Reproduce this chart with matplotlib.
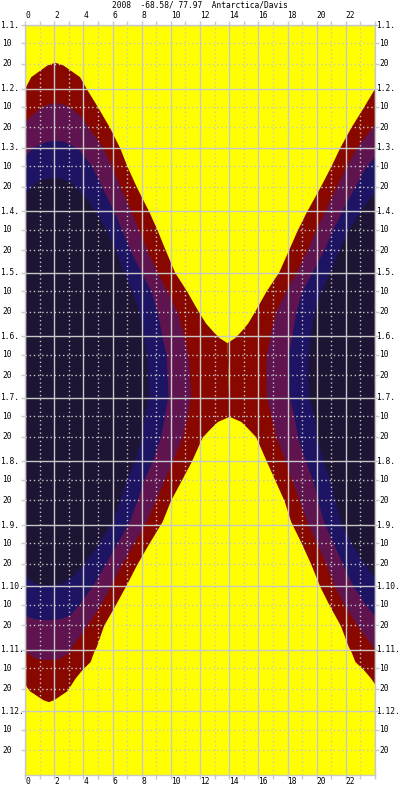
import numpy as np
import matplotlib
matplotlib.use('Agg')
import matplotlib.pyplot as plt
from matplotlib import transforms

# ---------------- data ----------------
title = "2008  -68.58/ 77.97  Antarctica/Davis"

# solar midnight (local hours) through the year, read from the tips of the regions
center_days = [0, 18, 38, 57, 75, 105, 135, 155, 175, 191, 213, 244, 273, 290, 309, 330, 366]
center_hours = [1.9, 2.05, 2.1, 2.05, 1.95, 1.85, 1.8, 1.85, 1.92, 2.0, 1.98, 1.8, 1.55, 1.5, 1.54, 1.6, 1.85]

# morning boundary (hours) of each dark region, by day of year (0 = 1 Jan)
sun_days = [18.2, 18.5, 19.5, 22, 25.2, 31, 40, 50, 60, 69, 79, 91, 100, 110, 120.5, 130, 140,
            145.5, 149.6, 152.5, 155, 191, 193.5, 196.7, 201, 206.5, 213, 222, 232, 242.3, 253,
            263, 274, 283, 293, 303.3, 306, 310.6, 314.6, 318.7, 324.9, 327.7, 329.3, 330.2]
sun_dawn = [2.05, 2.2, 2.6, 3.1, 3.74, 4.2, 4.98, 5.8, 6.5, 7.0, 7.64, 8.49, 9.06, 9.63, 10.25, 11.1, 11.9,
            12.39, 12.9, 13.3, 13.85, 14.0, 13.19, 12.73, 12.16, 11.81, 11.4, 10.73, 9.98, 9.4, 8.49,
            7.68, 6.88, 6.19, 5.39, 4.89, 4.7, 4.47, 3.9, 3.44, 2.87, 2.29, 1.95, 1.6]

civ_days = [38.0, 38.3, 40, 44.7, 50, 60, 69, 79, 91, 100, 110, 120.5, 130, 140, 152, 161, 171, 181,
            191, 201, 213, 222, 232, 242.3, 253, 263, 274, 283, 293, 303.3, 306, 308.3, 309.3, 309.6]
civ_dawn = [2.1, 2.5, 3.1, 3.85, 4.36, 5.35, 5.96, 6.54, 7.27, 7.8, 8.37, 9.05, 9.75, 10.44, 10.9, 11.19, 11.3, 11.35,
            11.12, 10.78, 10.09, 9.56, 8.94, 8.3, 7.45, 6.65, 5.85, 5.16, 4.24, 3.21, 2.98, 2.5, 2.3, 1.54]

nau_days = [56.4, 56.7, 59, 60, 69, 79, 91, 100, 110, 120.5, 130, 140, 152, 161, 171, 181, 191, 201,
            213, 222, 232, 242.3, 253, 263, 274, 283, 287.8, 289.7, 290.2]
nau_dawn = [2.04, 2.6, 3.33, 3.6, 4.59, 5.28, 6.08, 6.65, 7.22, 7.95, 8.65, 9.06, 9.4, 9.68, 9.75, 9.8, 9.56, 9.29,
            8.72, 8.14, 7.68, 7.15, 6.31, 5.5, 4.59, 3.67, 3.1, 2.4, 1.5]

ast_days = [74.5, 74.8, 77.2, 79, 84.6, 91, 100, 110, 120.5, 130, 140, 152, 161, 171, 181, 191, 201,
            213, 222, 232, 242.3, 253, 263, 268.3, 271.5, 272.8, 273.2]
ast_dawn = [1.95, 2.5, 3.25, 3.44, 4.24, 4.82, 5.57, 6.19, 6.75, 7.34, 7.8, 8.14, 8.33, 8.42, 8.46, 8.19, 7.96,
            7.5, 6.95, 6.49, 6.0, 5.05, 4.01, 3.33, 2.7, 2.3, 1.5]

month_starts = [0, 31, 60, 91, 121, 152, 182, 213, 244, 274, 305, 335]
month_labels = ["1.1.", "1.2.", "1.3.", "1.4.", "1.5.", "1.6.", "1.7.", "1.8.", "1.9.", "1.10.", "1.11.", "1.12."]
hour_ticks = list(range(0, 24, 2))

YELLOW = '#ffff00'
RED = '#880800'
PURPLE = '#5f1450'
BLUE = '#1e1464'
NIGHT = '#1e1434'
GRID = '#c8c8c8'

# ---------------- figure ----------------
fig = plt.figure(figsize=(4, 8), dpi=100)
fig.patch.set_facecolor('white')
ax = fig.add_axes([25 / 400, 25 / 800, 350 / 400, 750 / 800])
ax.set_xlim(0, 24)
ax.set_ylim(366, 0)
ax.set_facecolor(YELLOW)

levels = [(sun_days, sun_dawn, RED), (civ_days, civ_dawn, PURPLE),
          (nau_days, nau_dawn, BLUE), (ast_days, ast_dawn, NIGHT)]
for days, dawn, col in levels:
    d = np.array(days, float)
    c = np.interp(d, center_days, center_hours)
    hw = np.clip(np.array(dawn) - c, 0, 12)
    for k in (-24, 0, 24):
        ax.fill_betweenx(d, c - hw + k, c + hw + k, color=col, lw=0,
                         antialiased=False, zorder=1)

# grid
ax.set_xticks(hour_ticks + [24])
ax.set_xticks(range(1, 24, 2), minor=True)
ax.set_yticks(month_starts)
minor_days = [m + 9 for m in month_starts] + [m + 19 for m in month_starts]
ax.set_yticks(minor_days, minor=True)
ax.set_axisbelow(False)
ax.grid(which='major', color=GRID, lw=1.0, ls='-', zorder=2)
ax.grid(which='minor', color=GRID, lw=1.0, ls=(0, (1, 2)), zorder=2)
ax.tick_params(which='both', length=3, width=1, color=GRID, direction='out',
               top=True, bottom=True, left=True, right=True,
               labelbottom=False, labeltop=False, labelleft=False, labelright=False)
for s in ax.spines.values():
    s.set_color(GRID)
    s.set_linewidth(1)

FONT = dict(family='DejaVu Sans Mono', size=5.7, color='black')

# hour labels top and bottom
trx = transforms.blended_transform_factory(ax.transData, fig.transFigure)
for h in hour_ticks:
    ax.text(h, 1 - 15.5 / 800, str(h), transform=trx, ha='left', va='center', **FONT)
    ax.text(h, 1 - 781.5 / 800, str(h), transform=trx, ha='left', va='center', **FONT)

# date labels left and right
tr_y = transforms.blended_transform_factory(fig.transFigure, ax.transData)
for m, lab in zip(month_starts, month_labels):
    for xp in (0.3, 375.8):
        ax.text(xp / 400, m, lab, transform=tr_y, ha='left', va='center', **FONT)
    for dd, dl in ((9, "10"), (19, "20")):
        for xp in (2.5, 379.5):
            ax.text(xp / 400, m + dd, dl, transform=tr_y, ha='left', va='center', **FONT)

fig.text(0.5, 1 - 5.5 / 800, title, ha='center', va='center', **FONT)

fig.savefig('out.png', dpi=100, facecolor='white')
